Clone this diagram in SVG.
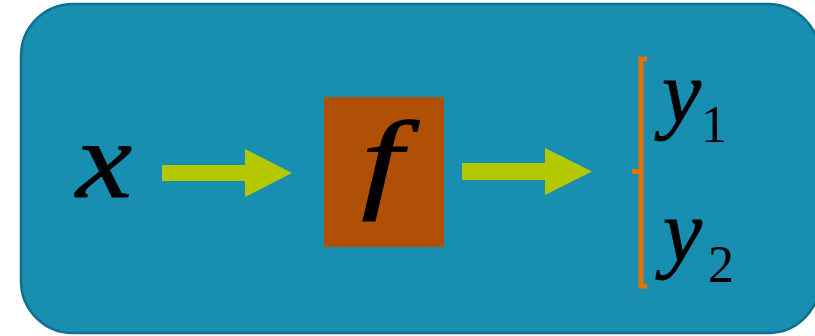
<svg xmlns="http://www.w3.org/2000/svg" width="815" height="336" viewBox="0 0 815 336">
<style>
.math{font-family:"Liberation Serif","Times New Roman",serif;font-style:italic;fill:#000;stroke:#000;stroke-width:0.8}
.sub{font-family:"Liberation Serif","Times New Roman",serif;fill:#000}
.arrow{fill:#b4c800}
.br{fill:none;stroke:#e8700a;stroke-width:5}
</style>
<rect x="21" y="4" width="799" height="329" rx="52" ry="52" fill="#188eb0" stroke="#0e6f90" stroke-width="2.5"/>
<g id="input-x"><text class="math" transform="translate(76,197) scale(1.15,1)" x="0" y="0" font-size="110">x</text></g>
<g id="function-f">
<rect x="324" y="97" width="120" height="150" fill="#b05006"/>
<text class="math" transform="translate(382,198) scale(1.35,1)" x="0" y="0" font-size="110" text-anchor="middle">f</text>
</g>
<g id="outputs">
<path class="br" d="M647,59 H641 V286 H647 M641,171.5 H632"/>
<text class="math" x="662" y="122" font-size="88">y</text>
<text class="sub" x="701" y="142" font-size="52">1</text>
<text class="math" x="663" y="261" font-size="88">y</text>
<text class="sub" x="708" y="282" font-size="52">2</text>
</g>
<g id="connectors">
<polygon class="arrow" points="162,165 245,165 245,149 292,173 245,197 245,181 162,181"/>
<polygon class="arrow" points="462,163 545,163 545,148 592,171.5 545,195 545,180 462,180"/>
</g>
</svg>
